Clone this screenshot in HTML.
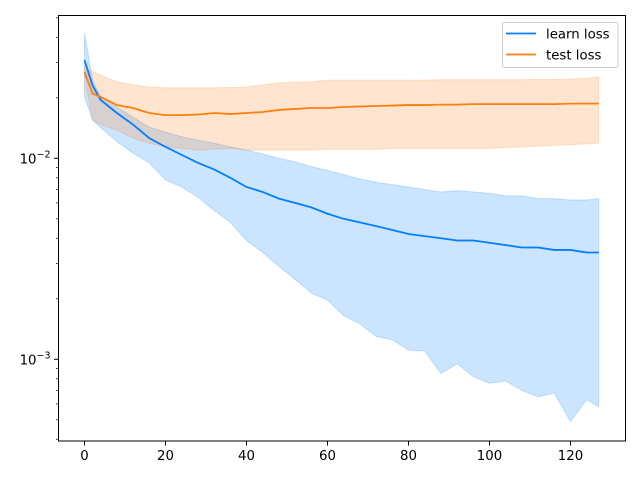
<!DOCTYPE html>
<html><head><meta charset="utf-8"><style>
body{margin:0;background:#fff;}
svg text{font-family:"DejaVu Sans","Liberation Sans",sans-serif;fill:#000;}
</style></head><body>
<svg id="chart" width="640" height="480" viewBox="0 0 640 480" xmlns="http://www.w3.org/2000/svg">
<rect x="0" y="0" width="640" height="480" fill="#fff"/>
<g id="plot"></g>
<g id="axes"></g>
<g>
<rect x="502.5" y="22.5" width="115.5" height="45" rx="2" fill="#fff" fill-opacity="0.8" stroke="#ccc"/>
<line x1="506" y1="33.5" x2="536" y2="33.5" stroke="#007fff" stroke-width="1.8"/>
<text x="546" y="38.5" font-size="13.3">learn loss</text>
<line x1="506" y1="54.5" x2="536" y2="54.5" stroke="#ff7f0e" stroke-width="1.8"/>
<text x="546" y="59.5" font-size="13.3">test loss</text>
</g>
</svg>
<script>
const epochs = [0,2,4,8,12,16,20,24,28,32,36,40,44,48,52,56,60,64,68,72,76,80,84,88,92,96,100,104,108,112,116,120,124,127];
const learnMean = [0.0308,0.023,0.0195,0.0168,0.0147,0.0126,0.0114,0.0104,0.0095,0.0088,0.0080,0.0072,0.0068,0.0063,0.0060,0.0057,0.0053,0.0050,0.0048,0.0046,0.0044,0.0042,0.0041,0.0040,0.0039,0.0039,0.0038,0.0037,0.0036,0.0036,0.0035,0.0035,0.0034,0.0034];
const learnUpper = [0.0421,0.0245,0.0202,0.0180,0.0160,0.0143,0.0135,0.0128,0.0123,0.0119,0.0114,0.0110,0.0105,0.0100,0.0096,0.0091,0.0087,0.0083,0.0079,0.0076,0.0074,0.0072,0.0070,0.0068,0.0069,0.0068,0.0067,0.0065,0.0065,0.0063,0.0063,0.0062,0.0062,0.0063];
const learnLower = [0.0202,0.0155,0.0142,0.0121,0.0106,0.0095,0.0078,0.0072,0.0064,0.0055,0.0048,0.0039,0.0034,0.0029,0.0025,0.00214,0.00197,0.00165,0.0015,0.0013,0.00125,0.00111,0.0011,0.00085,0.00095,0.00082,0.00076,0.00078,0.0007,0.00065,0.00068,0.00049,0.00063,0.00058];
const testMean = [0.0269,0.021,0.0202,0.0184,0.0178,0.0168,0.0164,0.0164,0.0165,0.0168,0.0166,0.0168,0.0170,0.0174,0.0176,0.0178,0.0178,0.0180,0.0181,0.0182,0.0183,0.0184,0.0184,0.0185,0.0185,0.0186,0.0186,0.0186,0.0186,0.0186,0.0186,0.0187,0.0187,0.0187];
const testUpper = [0.0284,0.027,0.0259,0.0240,0.0232,0.0226,0.0224,0.0224,0.0224,0.0224,0.0225,0.0226,0.0232,0.0237,0.0239,0.0240,0.0245,0.0245,0.0245,0.0245,0.0245,0.0245,0.0245,0.0246,0.0246,0.0246,0.0246,0.0246,0.0246,0.0247,0.0247,0.0248,0.0250,0.0254];
const testLower = [0.0254,0.0155,0.0147,0.0138,0.0126,0.0119,0.0114,0.0112,0.0110,0.0111,0.0112,0.0110,0.0110,0.0110,0.0110,0.0110,0.0111,0.0111,0.0111,0.0111,0.0112,0.0112,0.0112,0.0112,0.0112,0.0112,0.0112,0.0113,0.0114,0.0115,0.0116,0.0117,0.0118,0.0119];
const xTicks = [0,20,40,60,80,100,120];
const yMajor = [-2,-3];

const L=58.5,R=625.5,T=15.5,B=441;
const xs = v => 84.5 + v*4.05;
const ys = v => 158.3 - (Math.log10(v)+2)*201;
const NS='http://www.w3.org/2000/svg';
function mk(tag, attrs, parent){const e=document.createElementNS(NS,tag);for(const k in attrs)e.setAttribute(k,attrs[k]);parent.appendChild(e);return e;}
const plot=document.getElementById('plot'), axes=document.getElementById('axes');
function band(lo,hi,fill,name){
  let d='M'+epochs.map((e,i)=>xs(e)+','+ys(hi[i])).join('L');
  for(let i=epochs.length-1;i>=0;i--) d+='L'+xs(epochs[i])+','+ys(lo[i]);
  const p=mk('path',{d:d+'Z',fill:fill,'fill-opacity':0.2,stroke:fill,'stroke-opacity':0.2},plot);
  
  
}
function line(vals,color,name){
  const p=mk('path',{d:'M'+epochs.map((e,i)=>xs(e)+','+ys(vals[i])).join('L'),fill:'none',stroke:color,'stroke-width':1.8},plot);
  
  
}
band(learnLower,learnUpper,'#007fff','learn-loss-band');
band(testLower,testUpper,'#ff7f0e','test-loss-band');
line(learnMean,'#007fff','learn-loss-line');
line(testMean,'#ff7f0e','test-loss-line');
const frame=mk('rect',{x:L,y:T,width:R-L,height:B-T,fill:'none',stroke:'#000','stroke-width':1},axes);


xTicks.forEach(t=>{
  const x=xs(t);
  mk('line',{x1:x,y1:B,x2:x,y2:B+4.5,stroke:'#000'},axes);
  const tx=mk('text',{x:x,y:B+19,'font-size':13.3,'text-anchor':'middle'},axes);
  tx.textContent=t;
  
  
});
yMajor.forEach(p=>{
  const y=ys(Math.pow(10,p));
  mk('line',{x1:L-4.5,y1:y,x2:L,y2:y,stroke:'#000'},axes);
  const tx=mk('text',{x:L-8,y:y+5,'font-size':13.3,'text-anchor':'end'},axes);
  
  
  tx.appendChild(document.createTextNode('10'));
  const s=mk('tspan',{dy:-6,'font-size':9.5},tx);
  s.textContent='\u2212'+(-p);
});
[-4,-3,-2].forEach(p=>{
  for(let m=2;m<=9;m++){
    const v=m*Math.pow(10,p), y=ys(v);
    if(y>T && y<B) mk('line',{x1:L-2.5,y1:y,x2:L,y2:y,stroke:'#000','stroke-width':0.7},axes);
  }
});
</script>
</body></html>
